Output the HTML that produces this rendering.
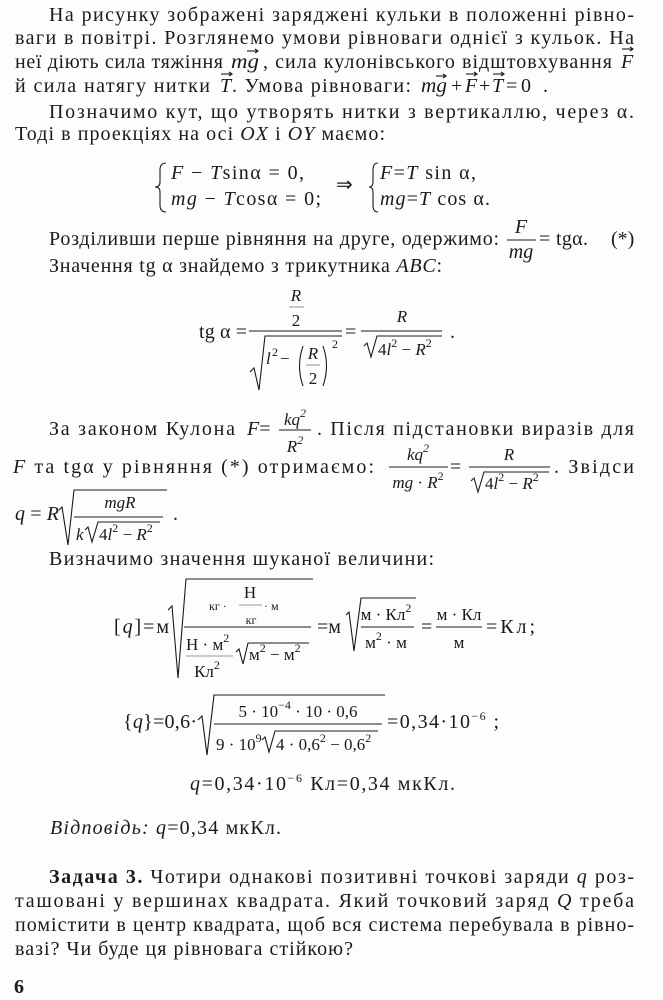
<!DOCTYPE html>
<html><head><meta charset="utf-8">
<style>
html,body{margin:0;padding:0;background:#fdfdfd;}
svg{display:block;}
text{font-family:"Liberation Serif",serif;fill:#1a1a1a;font-size:20px;}
.i{font-style:italic;}
.s{font-size:12px;}
.m{font-size:17px;}
.b{font-weight:bold;}
line,path.l{stroke:#1a1a1a;stroke-width:1.1;fill:none;}
</style></head><body>
<svg width="663" height="1000" viewBox="0 0 663 1000" xmlns="http://www.w3.org/2000/svg">
<text x="49" y="21" textLength="585" lengthAdjust="spacing">На рисунку зображені заряджені кульки в положенні рівно-</text>
<text x="15" y="44" textLength="619" lengthAdjust="spacing">ваги в повітрі. Розглянемо умови рівноваги однієї з кульок. На</text>
<text x="15" y="68" textLength="208" lengthAdjust="spacing">неї діють сила тяжіння</text>
<text x="231" y="68" class="i" textLength="28" lengthAdjust="spacingAndGlyphs">mg</text>
<text x="263" y="68" textLength="349" lengthAdjust="spacing">, сила кулонівського відштовхування</text>
<text x="621" y="68" class="i">F</text>
<line x1="247" y1="51" x2="258" y2="51"/><path class="l" d="M255 49 L258 51 L255 53"/>
<line x1="622" y1="49" x2="633" y2="49"/><path class="l" d="M630 47 L633 49 L630 51"/>
<text x="15" y="92" textLength="195" lengthAdjust="spacing">й сила натягу нитки</text>
<text x="220" y="92" class="i">T</text>
<line x1="221" y1="74" x2="232" y2="74"/><path class="l" d="M229 72 L232 74 L229 76"/>
<text x="232" y="92" textLength="179" lengthAdjust="spacing">. Умова рівноваги:</text>
<text x="421" y="92" class="i" textLength="26" lengthAdjust="spacingAndGlyphs">mg</text>
<text x="451" y="92">+</text>
<text x="465" y="92" class="i">F</text>
<text x="479" y="92">+</text>
<text x="492" y="92" class="i">T</text>
<text x="506" y="92">=</text>
<text x="521" y="92">0</text>
<text x="543" y="92">.</text>
<line x1="436" y1="76" x2="446" y2="76"/><path class="l" d="M443 74 L446 76 L443 78"/>
<line x1="466" y1="74" x2="477" y2="74"/><path class="l" d="M474 72 L477 74 L474 76"/>
<line x1="493" y1="74" x2="504" y2="74"/><path class="l" d="M501 72 L504 74 L501 76"/>
<text x="49" y="118" textLength="585" lengthAdjust="spacing">Позначимо кут, що утворять нитки з вертикаллю, через α.</text>
<text x="15" y="140" textLength="370" lengthAdjust="spacing">Тоді в проекціях на осі <tspan class="i">OX</tspan> і <tspan class="i">OY</tspan> маємо:</text>
<path class="l" d="M166 163 Q160 163 160 170 L160 182 Q160 187 155 187 Q160 187 160 192 L160 205 Q160 212 166 212"/>
<text x="171" y="179" textLength="133" lengthAdjust="spacing"><tspan class="i">F</tspan> − <tspan class="i">T</tspan>sinα = 0,</text>
<text x="171" y="205" textLength="150" lengthAdjust="spacing"><tspan class="i">mg</tspan> − <tspan class="i">T</tspan>cosα = 0;</text>
<text x="336" y="191">⇒</text>
<path class="l" d="M378 163 Q373 163 373 170 L373 182 Q373 187 369 187 Q373 187 373 192 L373 205 Q373 212 378 212"/>
<text x="380" y="179" textLength="96" lengthAdjust="spacing"><tspan class="i">F</tspan>=<tspan class="i">T</tspan> sin α,</text>
<text x="380" y="205" textLength="110" lengthAdjust="spacing"><tspan class="i">mg</tspan>=<tspan class="i">T</tspan> cos α.</text>
<text x="49" y="245" textLength="450" lengthAdjust="spacing">Розділивши перше рівняння на друге, одержимо:</text>
<text x="521" y="233" class="i" text-anchor="middle">F</text>
<line x1="507" y1="240" x2="536" y2="240"/>
<text x="521" y="258" class="i" text-anchor="middle">mg</text>
<text x="539" y="245" textLength="49" lengthAdjust="spacing">= tgα.</text>
<text x="611" y="245">(*)</text>
<text x="49" y="272" textLength="393" lengthAdjust="spacing">Значення tg α знайдемо з трикутника <tspan class="i">ABC</tspan>:</text>
<text x="199" y="338" textLength="48" lengthAdjust="spacing">tg α =</text>
<text x="296" y="301" class="i m" text-anchor="middle">R</text>
<line x1="289" y1="307" x2="304" y2="307" style="stroke:#999"/>
<text x="296" y="326" class="m" text-anchor="middle">2</text>
<line x1="249" y1="331" x2="342" y2="331"/>
<path class="l" d="M250 372 L254 368 L259 390 L265 336 L342 336"/>
<text x="266" y="364" class="i m">l</text><text x="272" y="356" class="s">2</text>
<text x="280" y="364" class="m">−</text>
<path class="l" d="M303 346 Q296 366 303 386"/>
<text x="313" y="359" class="i m" text-anchor="middle">R</text>
<line x1="306" y1="365" x2="320" y2="365" style="stroke:#999"/>
<text x="313" y="384" class="m" text-anchor="middle">2</text>
<path class="l" d="M323 346 Q330 366 323 386"/>
<text x="332" y="348" class="s">2</text>
<text x="345" y="338">=</text>
<text x="402" y="322" class="i m" text-anchor="middle">R</text>
<line x1="361" y1="331" x2="442" y2="331"/>
<path class="l" d="M364 346 L367 343 L371 357 L377 336 L442 336"/>
<text x="378" y="355" class="m">4<tspan class="i">l</tspan><tspan class="s" dy="-8">2</tspan><tspan dy="8"> − </tspan><tspan class="i">R</tspan><tspan class="s" dy="-8">2</tspan></text>
<text x="450" y="338">.</text>
<text x="49" y="435" textLength="186" lengthAdjust="spacing">За законом Кулона</text>
<text x="247" y="435"><tspan class="i">F</tspan>=</text>
<text x="295" y="425" class="i m" text-anchor="middle">kq<tspan class="s" dy="-8">2</tspan></text>
<line x1="279" y1="430" x2="311" y2="430"/>
<text x="295" y="452" class="i m" text-anchor="middle">R<tspan class="s" dy="-8">2</tspan></text>
<text x="317" y="435" textLength="317" lengthAdjust="spacing">. Після підстановки виразів для</text>
<text x="13" y="473" textLength="361" lengthAdjust="spacing"><tspan class="i">F</tspan> та tgα у рівняння (*) отримаємо:</text>
<text x="418" y="460" class="i m" text-anchor="middle">kq<tspan class="s" dy="-8">2</tspan></text>
<line x1="389" y1="467" x2="448" y2="467"/>
<text x="418" y="488" class="m" text-anchor="middle"><tspan class="i">mg</tspan> · <tspan class="i">R</tspan><tspan class="s" dy="-8">2</tspan></text>
<text x="450" y="473">=</text>
<text x="509" y="460" class="i m" text-anchor="middle">R</text>
<line x1="469" y1="467" x2="550" y2="467"/>
<path class="l" d="M471 481 L474 478 L478 492 L484 472 L549 472"/>
<text x="485" y="489" class="m">4<tspan class="i">l</tspan><tspan class="s" dy="-8">2</tspan><tspan dy="8"> − </tspan><tspan class="i">R</tspan><tspan class="s" dy="-8">2</tspan></text>
<text x="554" y="473" textLength="80" lengthAdjust="spacing">. Звідси</text>
<text x="15" y="520" textLength="44" lengthAdjust="spacing"><tspan class="i">q</tspan>=<tspan class="i">R</tspan></text>
<path class="l" d="M59 510 L62 507 L68 545 L74 490 L167 490"/>
<text x="120" y="508" class="i m" text-anchor="middle">mgR</text>
<line x1="74" y1="517" x2="163" y2="517"/>
<text x="76" y="540" class="i m">k</text>
<path class="l" d="M85 530 L88 527 L92 542 L98 522 L160 522"/>
<text x="99" y="540" class="m">4<tspan class="i">l</tspan><tspan class="s" dy="-8">2</tspan><tspan dy="8"> − </tspan><tspan class="i">R</tspan><tspan class="s" dy="-8">2</tspan></text>
<text x="173" y="520">.</text>
<text x="49" y="565" textLength="385" lengthAdjust="spacing">Визначимо значення шуканої величини:</text>
<text x="114" y="633" textLength="55" lengthAdjust="spacing">[<tspan class="i">q</tspan>]=м</text>
<path class="l" d="M168 610 L172 606 L178 678 L186 579 L313 579"/>
<text x="250" y="598" class="m" text-anchor="middle">Н</text>
<line x1="239" y1="605" x2="262" y2="605" style="stroke:#999"/>
<text x="209" y="610" class="s">кг ·</text>
<text x="264" y="610" class="s">· м</text>
<text x="251" y="624" class="s" text-anchor="middle">кг</text>
<line x1="184" y1="627" x2="311" y2="627"/>
<text x="186" y="650" class="m">Н · м<tspan class="s" dy="-8">2</tspan></text>
<line x1="186" y1="656" x2="233" y2="656" style="stroke:#999"/>
<text x="207" y="677" class="m" text-anchor="middle">Кл<tspan class="s" dy="-8">2</tspan></text>
<path class="l" d="M236 652 L239 649 L243 664 L248 643 L309 643"/>
<text x="249" y="660" class="m">м<tspan class="s" dy="-8">2</tspan><tspan dy="8"> − м</tspan><tspan class="s" dy="-8">2</tspan></text>
<text x="317" y="633">=м</text>
<path class="l" d="M346 615 L349 612 L354 651 L361 598 L416 598"/>
<text x="386" y="620" class="m" text-anchor="middle">м · Кл<tspan class="s" dy="-8">2</tspan></text>
<line x1="361" y1="627" x2="414" y2="627"/>
<text x="386" y="648" class="m" text-anchor="middle">м<tspan class="s" dy="-8">2</tspan><tspan dy="8"> · м</tspan></text>
<text x="421" y="633">=</text>
<text x="459" y="620" class="m" text-anchor="middle">м · Кл</text>
<line x1="436" y1="627" x2="482" y2="627"/>
<text x="459" y="648" class="m" text-anchor="middle">м</text>
<text x="486" y="633" textLength="49" lengthAdjust="spacing">=Кл;</text>
<text x="123" y="728" textLength="74" lengthAdjust="spacing">{<tspan class="i">q</tspan>}=0,6·</text>
<path class="l" d="M198 720 L202 716 L207 755 L214 695 L385 695"/>
<text x="298" y="717" class="m" text-anchor="middle">5 · 10<tspan class="s" dy="-8">−4</tspan><tspan dy="8"> · 10 · 0,6</tspan></text>
<line x1="214" y1="724" x2="382" y2="724"/>
<text x="216" y="750" class="m">9 · 10<tspan class="s" dy="-8">9</tspan></text>
<path class="l" d="M262 740 L265 737 L269 752 L275 731 L378 731"/>
<text x="276" y="750" class="m">4 · 0,6<tspan class="s" dy="-8">2</tspan><tspan dy="8"> − 0,6</tspan><tspan class="s" dy="-8">2</tspan></text>
<text x="387" y="728" textLength="112" lengthAdjust="spacing">=0,34·10<tspan class="s" dy="-8">−6</tspan><tspan dy="8"> ;</tspan></text>
<text x="190" y="790" textLength="265" lengthAdjust="spacing"><tspan class="i">q</tspan>=0,34·10<tspan class="s" dy="-8">−6</tspan><tspan dy="8"> Кл=0,34 мкКл.</tspan></text>
<text x="50" y="834" textLength="231" lengthAdjust="spacing"><tspan class="i">Відповідь:</tspan> <tspan class="i">q</tspan>=0,34 мкКл.</text>
<text x="49" y="883" textLength="585" lengthAdjust="spacing"><tspan class="b">Задача 3.</tspan> Чотири однакові позитивні точкові заряди <tspan class="i">q</tspan> роз-</text>
<text x="15" y="907" textLength="619" lengthAdjust="spacing">ташовані у вершинах квадрата. Який точковий заряд <tspan class="i">Q</tspan> треба</text>
<text x="15" y="931" textLength="619" lengthAdjust="spacing">помістити в центр квадрата, щоб вся система перебувала в рівно-</text>
<text x="15" y="955" textLength="338" lengthAdjust="spacing">вазі? Чи буде ця рівновага стійкою?</text>
<text x="14" y="993" class="b">6</text>
</svg>
</body></html>
